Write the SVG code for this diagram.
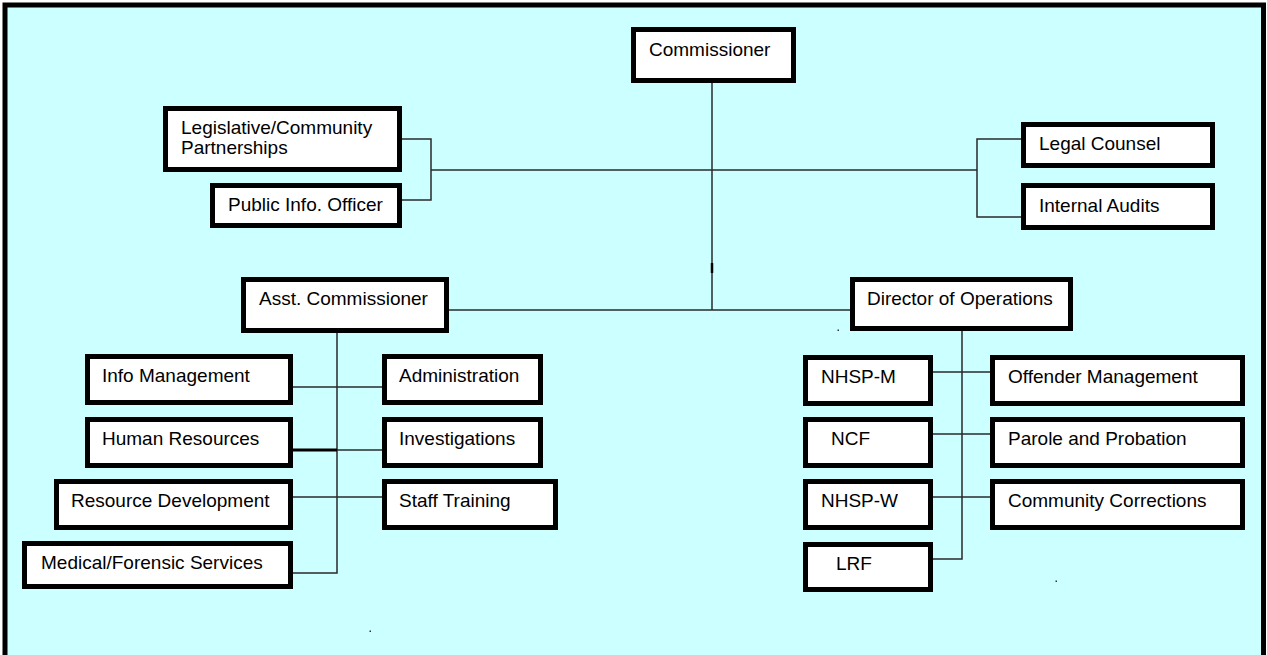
<svg xmlns="http://www.w3.org/2000/svg" width="1267" height="655" viewBox="0 0 1267 655">
<style>
.box{fill:#ffffff;stroke:#000000;stroke-width:5}
.lbl{font-family:"Liberation Sans",Arial,sans-serif;font-size:19px;fill:#000000}
.ln{stroke:#2a2a2a;stroke-width:1.5;fill:none}
.dot{fill:#333333}
</style>
<rect x="0" y="0" width="1267" height="655" fill="#ffffff"/>
<rect x="5" y="5" width="1258.5" height="700" fill="#CCFFFF" stroke="#000000" stroke-width="5"/>
<g id="connectors">
<path class="ln" d="M712 77V310"/>
<path d="M712 263V273" stroke="#000" stroke-width="2.5"/>
<path class="ln" d="M431 170H977"/>
<path class="ln" d="M402 139H431V200H402"/>
<path class="ln" d="M1021 139H977V217H1021"/>
<path class="ln" d="M449 310H850"/>
<path class="ln" d="M337 325V573H293"/>
<path class="ln" d="M293 387H382"/>
<path d="M293 450H337" stroke="#000" stroke-width="3"/>
<path class="ln" d="M337 450H382"/>
<path class="ln" d="M293 497H382"/>
<path class="ln" d="M962 325V559H933"/>
<path class="ln" d="M933 372H990"/>
<path class="ln" d="M933 434H990"/>
<path class="ln" d="M933 497H990"/>
</g>
<g id="n-commissioner"><rect class="box" x="633.5" y="29.5" width="160" height="51"/><text class="lbl" x="649" y="56">Commissioner</text></g>
<g id="n-legislative"><rect class="box" x="165.5" y="108.5" width="234" height="61"/><text class="lbl" x="181" y="134">Legislative/Community</text><text class="lbl" x="181" y="154">Partnerships</text></g>
<g id="n-public-info"><rect class="box" x="212.5" y="185.5" width="187" height="40"/><text class="lbl" x="228" y="211">Public Info. Officer</text></g>
<g id="n-legal-counsel"><rect class="box" x="1023.5" y="124.5" width="189" height="41"/><text class="lbl" x="1039" y="150">Legal Counsel</text></g>
<g id="n-internal-audits"><rect class="box" x="1023.5" y="185.5" width="189" height="42"/><text class="lbl" x="1039" y="212">Internal Audits</text></g>
<g id="n-asst-commissioner"><rect class="box" x="243.5" y="279.5" width="203" height="51"/><text class="lbl" x="259" y="305">Asst. Commissioner</text></g>
<g id="n-director-ops"><rect class="box" x="852.5" y="279.5" width="218" height="49"/><text class="lbl" x="867" y="305">Director of Operations</text></g>
<g id="n-info-management"><rect class="box" x="87.5" y="356.5" width="203" height="46"/><text class="lbl" x="102" y="382">Info Management</text></g>
<g id="n-administration"><rect class="box" x="384.5" y="356.5" width="156" height="46"/><text class="lbl" x="399" y="382">Administration</text></g>
<g id="n-human-resources"><rect class="box" x="87.5" y="419.5" width="203" height="46"/><text class="lbl" x="102" y="445">Human Resources</text></g>
<g id="n-investigations"><rect class="box" x="384.5" y="419.5" width="156" height="46"/><text class="lbl" x="399" y="445">Investigations</text></g>
<g id="n-resource-development"><rect class="box" x="56.5" y="481.5" width="234" height="46"/><text class="lbl" x="71" y="507">Resource Development</text></g>
<g id="n-staff-training"><rect class="box" x="384.5" y="481.5" width="171" height="46"/><text class="lbl" x="399" y="507">Staff Training</text></g>
<g id="n-medical-forensic"><rect class="box" x="24.5" y="543.5" width="266" height="43"/><text class="lbl" x="41" y="569">Medical/Forensic Services</text></g>
<g id="n-nhsp-m"><rect class="box" x="805.5" y="357.5" width="125" height="46"/><text class="lbl" x="821" y="383">NHSP-M</text></g>
<g id="n-offender-management"><rect class="box" x="992.5" y="357.5" width="250" height="46"/><text class="lbl" x="1008" y="383">Offender Management</text></g>
<g id="n-ncf"><rect class="box" x="805.5" y="419.5" width="125" height="46"/><text class="lbl" x="831" y="445">NCF</text></g>
<g id="n-parole-probation"><rect class="box" x="992.5" y="419.5" width="250" height="46"/><text class="lbl" x="1008" y="445">Parole and Probation</text></g>
<g id="n-nhsp-w"><rect class="box" x="805.5" y="481.5" width="125" height="46"/><text class="lbl" x="821" y="507">NHSP-W</text></g>
<g id="n-community-corrections"><rect class="box" x="992.5" y="481.5" width="250" height="46"/><text class="lbl" x="1008" y="507">Community Corrections</text></g>
<g id="n-lrf"><rect class="box" x="805.5" y="544.5" width="125" height="45"/><text class="lbl" x="836" y="570">LRF</text></g>
<rect class="dot" x="369.5" y="630.5" width="1.5" height="1.5"/>
<rect class="dot" x="837.5" y="329.5" width="1.5" height="1.5"/>
<rect class="dot" x="1055.5" y="580.5" width="1.5" height="1.5"/>
</svg>
